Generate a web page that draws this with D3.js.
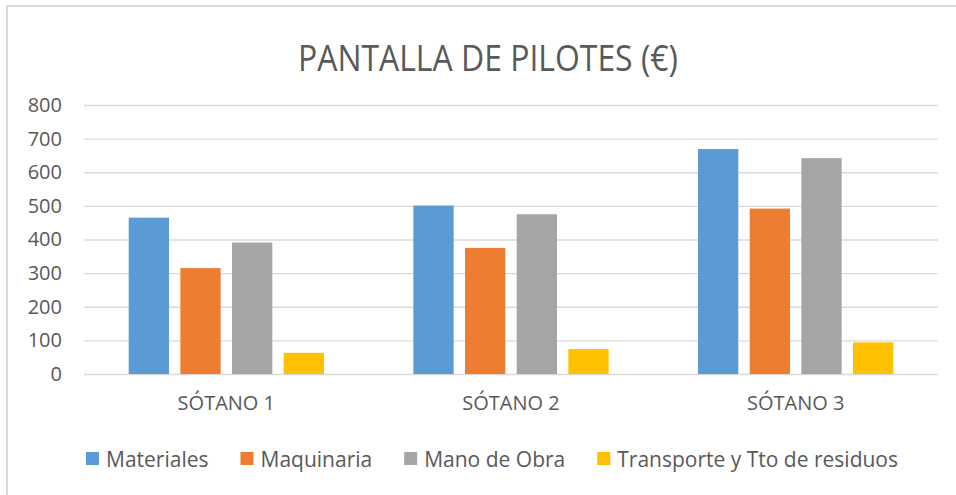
<!DOCTYPE html>
<html>
<head>
<meta charset="utf-8">
<script src="https://cdn.jsdelivr.net/npm/d3@7"></script>
<style>
  html, body { margin: 0; padding: 0; background: #fff; }
  svg { display: block; font-family: "Open Sans", "Liberation Sans", Arial, sans-serif; }
</style>
</head>
<body>
<svg id="chart" width="956" height="495"></svg>
<script>
// Cost breakdown per basement level (€)
const categories = ["SÓTANO 1", "SÓTANO 2", "SÓTANO 3"];
const seriesNames = ["Materiales", "Maquinaria", "Mano de Obra", "Transporte y Tto de residuos"];
const materiales = [465, 501, 669];
const maquinaria = [315, 375, 492];
const manoDeObra = [391, 475, 642];
const transporte = [63, 74, 94];
const yTicks = [0, 100, 200, 300, 400, 500, 600, 700, 800];
const colors = ["#5B9BD5", "#ED7D31", "#A5A5A5", "#FFC000"];

const seriesValues = [materiales, maquinaria, manoDeObra, transporte];

const svg = d3.select("#chart");
const plot = { left: 84, right: 938, top: 105, bottom: 374 };

// chart frame
svg.append("rect")
  .attr("x", 7).attr("y", 6)
  .attr("width", 980).attr("height", 520)
  .attr("fill", "#fff")
  .attr("stroke", "#d9d9d9").attr("stroke-width", 2);

// title
svg.append("text")
  .attr("x", 488).attr("y", 71)
  .attr("text-anchor", "middle")
  .attr("font-size", 36)
  .attr("textLength", 380)
  .attr("lengthAdjust", "spacingAndGlyphs")
  .attr("fill", "#595959")
  .text("PANTALLA DE PILOTES (€)");

const y = d3.scaleLinear().domain([0, 800]).range([plot.bottom, plot.top]);
const x0 = d3.scaleBand().domain(categories).range([plot.left, plot.right]).padding(0);
const groupW = x0.bandwidth() * 0.686;
const x1 = d3.scaleBand().domain(seriesNames)
  .range([(x0.bandwidth() - groupW) / 2, (x0.bandwidth() + groupW) / 2])
  .paddingInner(0.22).paddingOuter(0);

// gridlines and y labels
const yAxis = d3.axisLeft(y).tickValues(yTicks).tickSize(-(plot.right - plot.left)).tickPadding(22);
const gy = svg.append("g").attr("transform", `translate(${plot.left},0)`).call(yAxis);
gy.select(".domain").remove();
gy.selectAll(".tick line").attr("stroke", "#d9d9d9").attr("stroke-width", 1.4);
gy.selectAll(".tick text")
  .attr("font-size", 20).attr("fill", "#595959")
  .attr("font-family", "'Open Sans', sans-serif");

// bars
const groups = svg.append("g").selectAll("g")
  .data(categories)
  .join("g")
  .attr("transform", d => `translate(${x0(d)},0)`);

groups.selectAll("rect")
  .data((c, ci) => seriesNames.map((s, si) => ({ s, si, v: seriesValues[si][ci] })))
  .join("rect")
  .attr("x", d => x1(d.s))
  .attr("width", x1.bandwidth())
  .attr("y", d => y(d.v))
  .attr("height", d => y(0) - y(d.v))
  .attr("fill", d => colors[d.si]);

// category axis
const xAxis = d3.axisBottom(x0).tickSize(0).tickPadding(22);
const gx = svg.append("g").attr("transform", `translate(0,${plot.bottom})`).call(xAxis);
gx.select(".domain").remove();
gx.selectAll(".tick text")
  .attr("font-size", 20).attr("fill", "#595959")
  .attr("font-family", "'Open Sans', sans-serif");

// legend
const legend = svg.append("g");
const items = legend.selectAll("g").data(seriesNames).join("g");
items.append("rect").attr("width", 13).attr("height", 13).attr("y", 452)
  .attr("fill", (d, i) => colors[i]);
items.append("text").attr("x", 20).attr("y", 467)
  .attr("font-size", 21).attr("fill", "#595959")
  .text(d => d);
let cursor = 0;
const offsets = [];
items.each(function () {
  const tw = d3.select(this).select("text").node().getComputedTextLength();
  offsets.push(cursor);
  cursor += 20 + tw + 32;
});
const total = cursor - 32;
const startX = 492 - total / 2;
items.attr("transform", (d, i) => `translate(${startX + offsets[i]},0)`);
</script>
</body>
</html>
